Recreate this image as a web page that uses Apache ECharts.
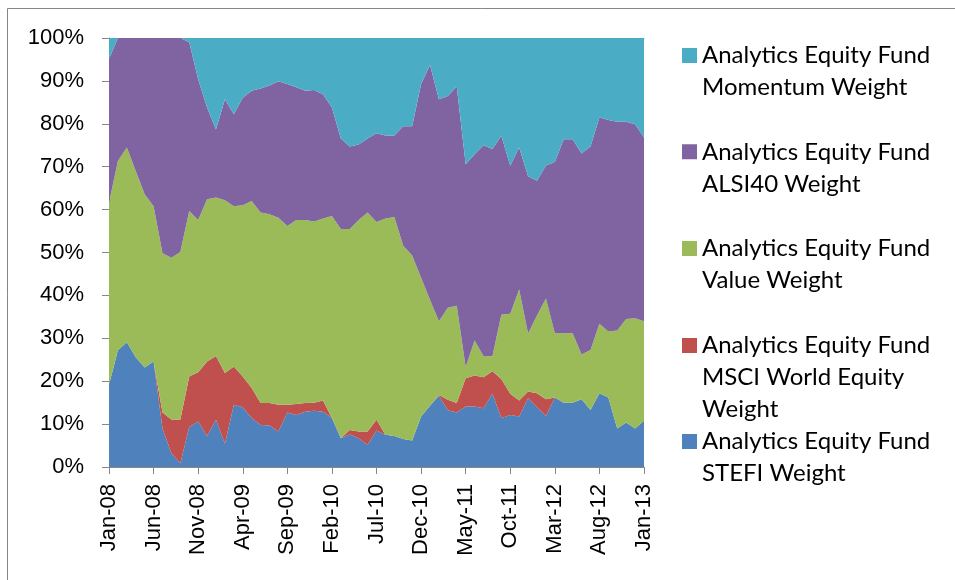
<!DOCTYPE html>
<html><head><meta charset="utf-8">
<script src="https://cdn.jsdelivr.net/npm/echarts@6/dist/echarts.min.js"></script>
<style>html,body{margin:0;padding:0;background:#fff}#c{width:955px;height:580px}</style>
</head><body><div id="c"></div>
<script>
const categories = ['Jan-08','Feb-08','Mar-08','Apr-08','May-08','Jun-08','Jul-08','Aug-08','Sep-08','Oct-08','Nov-08','Dec-08',
'Jan-09','Feb-09','Mar-09','Apr-09','May-09','Jun-09','Jul-09','Aug-09','Sep-09','Oct-09','Nov-09','Dec-09',
'Jan-10','Feb-10','Mar-10','Apr-10','May-10','Jun-10','Jul-10','Aug-10','Sep-10','Oct-10','Nov-10','Dec-10',
'Jan-11','Feb-11','Mar-11','Apr-11','May-11','Jun-11','Jul-11','Aug-11','Sep-11','Oct-11','Nov-11','Dec-11',
'Jan-12','Feb-12','Mar-12','Apr-12','May-12','Jun-12','Jul-12','Aug-12','Sep-12','Oct-12','Nov-12','Dec-12','Jan-13'];

const stefi = [19.2,27.2,29.1,25.6,23.2,24.6,9.0,3.2,0.9,9.3, 10.6,7.2,11.0,5.4,14.5,13.9,11.4,9.8,9.7,8.3,
 12.7,12.1,12.9,13.1,12.9,11.4,6.7,7.6,6.7,5.1, 8.5,7.5,7.2,6.5,6.2,11.8,14.3,16.6,13.2,12.7,
 14.1,14.1,13.7,17.1,11.4,12.1,11.8,16.0,13.9,11.9, 16.2,15.0,15.0,15.8,13.3,17.2,16.2,9.0,10.4,9.0,10.8];
const msci = [0,0,0,0,0,0,3.7,7.9,10.2,11.8, 11.5,17.4,14.9,16.5,8.9,7.2,7.0,5.1,5.2,6.2,
 1.8,2.6,2.0,1.9,2.6,0,0,1.0,1.6,3.2, 2.5,0,0,0,0,0,0,0.2,2.5,2.2,
 6.6,7.2,7.2,5.2,9.1,5.0,3.7,1.6,3.3,3.9, 0,0,0,0,0,0,0,0,0,0,0];
const value = [42.4,44.1,45.4,43.4,40.4,36.2,37.1,37.7,39.0,38.6, 35.5,37.8,36.9,40.3,37.4,39.9,43.6,44.4,44.0,43.6,
 41.7,42.9,42.7,42.2,42.4,47.1,48.8,46.9,49.3,51.0, 46.1,50.4,51.1,45.1,43.1,32.3,24.7,17.2,21.4,22.7,
 2.6,8.2,5.0,3.5,15.0,18.6,25.9,13.5,18.1,23.5, 15.0,16.2,16.2,10.4,14.0,16.2,15.4,22.8,24.1,25.7,23.2];
const alsi40 = [33.5,28.7,25.5,31.0,36.4,39.2,50.2,51.2,49.9,39.3, 32.8,21.4,15.9,23.5,21.4,25.1,25.7,28.9,30.0,31.8,
 33.1,30.9,30.1,30.7,29.0,25.3,21.1,19.2,17.6,17.3, 20.7,19.4,19.0,27.8,30.1,45.2,54.7,51.7,49.4,51.1,
 47.3,43.4,49.1,48.3,41.7,34.5,33.1,36.7,31.4,31.0, 39.9,45.2,45.2,46.9,47.4,48.1,49.3,48.7,46.0,45.2,42.8];
const momentum = [4.9,0,0,0,0,0,0,0,0,1.0, 9.6,16.2,21.3,14.3,17.8,13.9,12.3,11.8,11.1,10.1,
 10.7,11.5,12.3,12.1,13.1,16.2,23.4,25.3,24.8,23.4, 22.2,22.7,22.7,20.6,20.6,10.7,6.3,14.3,13.5,11.3,
 29.4,27.1,25.0,25.9,22.8,29.8,25.5,32.2,33.3,29.7, 28.9,23.6,23.6,26.9,25.3,18.5,19.1,19.5,19.5,20.1,23.2];

const yTickLabels = ['0%','10%','20%','30%','40%','50%','60%','70%','80%','90%','100%'];

const seriesDefs = [
  {name: 'Analytics Equity Fund STEFI Weight', data: stefi, color: '#4F81BD', label: 'Analytics Equity Fund\nSTEFI Weight', center: 441.5, lines: 2},
  {name: 'Analytics Equity Fund MSCI World Equity Weight', data: msci, color: '#C0504D', label: 'Analytics Equity Fund\nMSCI World Equity\nWeight', center: 345.5, lines: 3},
  {name: 'Analytics Equity Fund Value Weight', data: value, color: '#9BBB59', label: 'Analytics Equity Fund\nValue Weight', center: 248.5, lines: 2},
  {name: 'Analytics Equity Fund ALSI40 Weight', data: alsi40, color: '#8064A2', label: 'Analytics Equity Fund\nALSI40 Weight', center: 151.8, lines: 2},
  {name: 'Analytics Equity Fund Momentum Weight', data: momentum, color: '#4BACC6', label: 'Analytics Equity Fund\nMomentum Weight', center: 55.5, lines: 2}
];

const LH = 32;
const SQ = 15;
const labelMap = {};
seriesDefs.forEach(s => labelMap[s.name] = s.label);

// icon: square at the top of a taller (invisible) box so it lines up with the first text line
const legends = seriesDefs.map(s => {
  const h = (s.lines - 1) * LH + SQ;
  return {
    data: [s.name],
    orient: 'vertical',
    left: 682,
    top: s.center - LH / 2,
    padding: 0,
    icon: 'path://M0,0H' + SQ + 'V' + SQ + 'H0Z M0,' + h + 'L0.001,' + h,
    itemWidth: SQ,
    itemHeight: h,
    selectedMode: false,
    formatter: n => labelMap[n],
    textStyle: {
      fontFamily: 'Lato',
      fontSize: 24,
      color: '#000',
      lineHeight: LH
    }
  };
});

const chart = echarts.init(document.getElementById('c'), null, {renderer: 'canvas'});
chart.setOption({
  animation: false,
  backgroundColor: '#fff',
  graphic: [{
    type: 'rect', shape: {x: 7.5, y: 8.5, width: 1200, height: 1200},
    style: {fill: 'none', stroke: '#868686', lineWidth: 1}, silent: true
  }],
  legend: legends,
  grid: {left: 109, right: 311, top: 38, bottom: 113, containLabel: false},
  xAxis: [{
    type: 'category',
    data: categories,
    boundaryGap: false,
    axisLine: {lineStyle: {color: '#868686', width: 1}},
    axisTick: {show: true, interval: 4, length: 7, lineStyle: {color: '#868686'}},
    axisLabel: {interval: 4, rotate: 90, margin: 17, color: '#000', fontFamily: 'Liberation Sans', fontSize: 22},
    splitLine: {show: false}
  }, {
    type: 'category',
    data: categories,
    position: 'top',
    boundaryGap: false,
    axisLine: {lineStyle: {color: '#868686', width: 1}},
    axisTick: {show: false},
    axisLabel: {show: false}
  }],
  yAxis: {
    type: 'value', min: 0, max: 100, interval: 10,
    axisLine: {show: true, lineStyle: {color: '#868686', width: 1}},
    axisTick: {show: true, length: 7, lineStyle: {color: '#868686'}},
    axisLabel: {margin: 25, color: '#000', fontFamily: 'Liberation Sans', fontSize: 22,
      formatter: v => yTickLabels[Math.round(v / 10)]},
    splitLine: {show: false}
  },
  series: seriesDefs.map(s => ({
    name: s.name,
    type: 'line',
    stack: 'total',
    data: s.data,
    showSymbol: false,
    symbol: 'none',
    lineStyle: {width: 0},
    areaStyle: {color: s.color, opacity: 1},
    itemStyle: {color: s.color},
    z: 2
  }))
});
</script>
</body></html>
